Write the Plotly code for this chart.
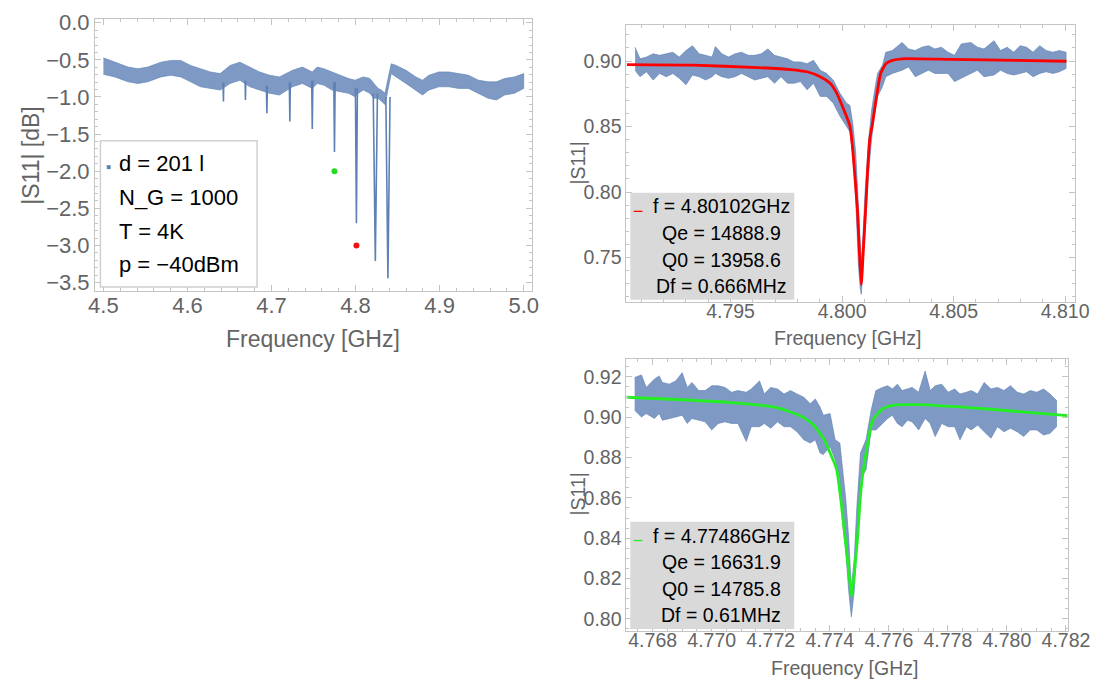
import plotly.graph_objects as go

W, H = 1117, 686
BLUE = '#5E81B5'
BAND = 'rgba(94,129,181,0.80)'
FONT = 'Liberation Sans, Arial, sans-serif'
TICKCOL = '#646464'
FRAME = '#c4c4c4'

# ---------------- left panel: wide sweep |S11| [dB] ----------------
wide_freq = [4.5000, 4.5137, 4.5293, 4.5411, 4.5528, 4.5685, 4.5803, 4.5920, 4.6038, 4.6155,
             4.6272, 4.6390, 4.6507, 4.6624, 4.6742, 4.6859, 4.6977, 4.7094, 4.7250, 4.7367,
             4.7485, 4.7543, 4.7622, 4.7719, 4.7817, 4.7915, 4.7993, 4.8033, 4.8092, 4.8169,
             4.8216, 4.8268, 4.8306, 4.8350, 4.8424, 4.8483, 4.8600, 4.8717, 4.8796, 4.8873,
             4.8991, 4.9108, 4.9225, 4.9343, 4.9460, 4.9577, 4.9676, 4.9773, 4.9890, 5.0000]
wide_upper = [-0.473, -0.531, -0.597, -0.619, -0.597, -0.531, -0.508, -0.508, -0.575, -0.619,
              -0.663, -0.685, -0.575, -0.531, -0.597, -0.663, -0.707, -0.729, -0.641, -0.597,
              -0.663, -0.597, -0.619, -0.663, -0.707, -0.751, -0.773, -0.751, -0.729, -0.751,
              -0.818, -0.884, -0.906, -0.950, -0.553, -0.575, -0.641, -0.729, -0.773, -0.707,
              -0.663, -0.663, -0.685, -0.707, -0.773, -0.796, -0.796, -0.751, -0.729, -0.685]
wide_lower = [-0.694, -0.729, -0.796, -0.818, -0.796, -0.729, -0.707, -0.729, -0.796, -0.862,
              -0.884, -0.906, -0.818, -0.774, -0.862, -0.906, -0.950, -0.973, -0.862, -0.818,
              -0.884, -0.818, -0.840, -0.906, -0.928, -0.950, -0.995, -0.950, -0.906, -0.950,
              -1.017, -1.017, -1.061, -1.100, -0.685, -0.729, -0.818, -0.906, -0.973, -0.906,
              -0.862, -0.862, -0.884, -0.884, -0.950, -1.017, -1.039, -0.973, -0.950, -0.884]

dip_freq = [4.6428, 4.6690, 4.6945, 4.7218, 4.7485, 4.7749, 4.8010, 4.8235, 4.8385]
dip_base = [-0.80, -0.78, -0.85, -0.80, -0.78, -0.80, -0.88, -0.95, -1.00]
dip_depth = [-1.06, -1.04, -1.22, -1.33, -1.43, -1.74, -2.70, -3.21, -3.44]
dip_halfwidth = [0.0004, 0.0004, 0.0006, 0.0006, 0.0007, 0.0008, 0.0012, 0.0025, 0.0025]

mark_freq = [4.77486, 4.80102]
mark_level = [-2.0, -3.0]
mark_color = ['#22dd22', '#ee1111']

legend_left = ['d = 201 l', 'N_G = 1000', 'T = 4K', 'p = \u221240dBm']

# ---------------- top-right: resonance near 4.801 GHz ----------------
r1_freq = [4.79072, 4.79094, 4.79123, 4.79153, 4.79182, 4.79212, 4.79241, 4.79270, 4.79300, 4.79329,
           4.79359, 4.79388, 4.79417, 4.79432, 4.79461, 4.79491, 4.79520, 4.79549, 4.79579, 4.79608,
           4.79638, 4.79667, 4.79697, 4.79726, 4.79755, 4.79784, 4.79813, 4.79843, 4.79872, 4.79902,
           4.79931, 4.79960, 4.79990, 4.80019, 4.80035, 4.80048, 4.80061, 4.80073, 4.80081, 4.80086,
           4.80093, 4.80103, 4.80119, 4.80132, 4.80144, 4.80159, 4.80181, 4.80196, 4.80225, 4.80269,
           4.80298, 4.80328, 4.80357, 4.80387, 4.80416, 4.80445, 4.80475, 4.80504, 4.80534, 4.80577,
           4.80607, 4.80636, 4.80681, 4.80710, 4.80740, 4.80769, 4.80798, 4.80827, 4.80856, 4.80886,
           4.80915, 4.80945, 4.80974, 4.81004]
r1_upper = [0.9105, 0.9017, 0.9030, 0.9055, 0.9043, 0.9055, 0.9067, 0.9030, 0.9080, 0.9117,
            0.9055, 0.9043, 0.9030, 0.9110, 0.9055, 0.9030, 0.9055, 0.9067, 0.9043, 0.9043,
            0.9055, 0.9092, 0.9043, 0.9030, 0.9017, 0.8993, 0.8993, 0.8980, 0.9005, 0.8930,
            0.8905, 0.8855, 0.8755, 0.8680, 0.8660, 0.8520, 0.8300, 0.7900, 0.7600, 0.7450,
            0.7650, 0.8000, 0.8400, 0.8620, 0.8755, 0.8905, 0.8968, 0.9067, 0.9080, 0.9142,
            0.9092, 0.9080, 0.9105, 0.9117, 0.9092, 0.9105, 0.9067, 0.9043, 0.9130, 0.9142,
            0.9105, 0.9092, 0.9155, 0.9080, 0.9105, 0.9067, 0.9117, 0.9105, 0.9067, 0.9117,
            0.9080, 0.9067, 0.9080, 0.9067]
r1_lower = [0.8930, 0.8880, 0.8918, 0.8855, 0.8905, 0.8880, 0.8905, 0.8868, 0.8818, 0.8893,
            0.8880, 0.8855, 0.8880, 0.8905, 0.8880, 0.8868, 0.8880, 0.8905, 0.8880, 0.8855,
            0.8868, 0.8880, 0.8830, 0.8880, 0.8830, 0.8830, 0.8843, 0.8780, 0.8830, 0.8730,
            0.8730, 0.8680, 0.8580, 0.8505, 0.8460, 0.8280, 0.7950, 0.7450, 0.7270, 0.7220,
            0.7350, 0.7650, 0.8150, 0.8400, 0.8580, 0.8730, 0.8805, 0.8880, 0.8905, 0.8930,
            0.8955, 0.8880, 0.8905, 0.8930, 0.8905, 0.8905, 0.8905, 0.8843, 0.8868, 0.8905,
            0.8930, 0.8880, 0.8893, 0.8930, 0.8905, 0.8893, 0.8905, 0.8918, 0.8880, 0.8905,
            0.8918, 0.8905, 0.8918, 0.8943]
fit1_freq = [4.79035, 4.79329, 4.79623, 4.79770, 4.79843, 4.79902, 4.79946, 4.79976, 4.79998,
             4.80019, 4.80035, 4.80046, 4.80058, 4.80069, 4.80078, 4.80086, 4.80095, 4.80105,
             4.80114, 4.80124, 4.80136, 4.80148, 4.80159, 4.80173, 4.80196, 4.80225, 4.80269,
             4.80489, 4.80784, 4.81006]
fit1_val = [0.8972, 0.8968, 0.8950, 0.8935, 0.8918, 0.8880, 0.8830, 0.8755, 0.8668,
            0.8580, 0.8505, 0.8355, 0.8105, 0.7855, 0.7530, 0.7293, 0.7555, 0.7855,
            0.8155, 0.8405, 0.8520, 0.8655, 0.8780, 0.8905, 0.8980, 0.9005, 0.9017,
            0.9012, 0.9005, 0.8998]
legend_r1 = ['f = 4.80102GHz', 'Qe = 14888.9', 'Q0 = 13958.6', 'Df = 0.666MHz']

# ---------------- bottom-right: resonance near 4.7749 GHz ----------------
r2_freq = [4.76739, 4.76762, 4.76778, 4.76806, 4.76822, 4.76833, 4.76856, 4.76878, 4.76900, 4.76917,
           4.76933, 4.76956, 4.76978, 4.77000, 4.77022, 4.77045, 4.77067, 4.77089, 4.77117, 4.77134,
           4.77162, 4.77178, 4.77200, 4.77223, 4.77245, 4.77267, 4.77289, 4.77312, 4.77334, 4.77351,
           4.77367, 4.77378, 4.77401, 4.77418, 4.77434, 4.77444, 4.77454, 4.77464, 4.77473, 4.77483,
           4.77492, 4.77504, 4.77523, 4.77540, 4.77556, 4.77579, 4.77596, 4.77612, 4.77629, 4.77645,
           4.77663, 4.77679, 4.77701, 4.77723, 4.77740, 4.77757, 4.77779, 4.77801, 4.77823, 4.77841,
           4.77863, 4.77879, 4.77901, 4.77923, 4.77946, 4.77968, 4.77990, 4.78012, 4.78035, 4.78057,
           4.78079, 4.78101, 4.78124, 4.78146, 4.78168]
r2_upper = [0.9197, 0.9210, 0.9148, 0.9189, 0.9205, 0.9172, 0.9164, 0.9180, 0.9221, 0.9148,
            0.9172, 0.9132, 0.9132, 0.9156, 0.9156, 0.9148, 0.9124, 0.9132, 0.9124, 0.9140,
            0.9180, 0.9115, 0.9148, 0.9140, 0.9115, 0.9132, 0.9115, 0.9099, 0.9067, 0.9091,
            0.9050, 0.9010, 0.9018, 0.8888, 0.8872, 0.8725, 0.8595, 0.8400, 0.8150, 0.8302,
            0.8563, 0.8823, 0.8890, 0.9034, 0.9132, 0.9148, 0.9156, 0.9140, 0.9164, 0.9132,
            0.9140, 0.9148, 0.9124, 0.9229, 0.9132, 0.9156, 0.9164, 0.9124, 0.9140, 0.9115,
            0.9124, 0.9132, 0.9115, 0.9172, 0.9140, 0.9148, 0.9132, 0.9156, 0.9124, 0.9115,
            0.9132, 0.9124, 0.9140, 0.9115, 0.9083]
r2_lower = [0.9034, 0.9001, 0.9018, 0.8994, 0.9018, 0.8985, 0.8994, 0.9001, 0.9010, 0.8969,
            0.8994, 0.8985, 0.8977, 0.8937, 0.8969, 0.8977, 0.8969, 0.8969, 0.8880, 0.8953,
            0.8953, 0.8969, 0.8945, 0.8977, 0.8953, 0.8953, 0.8928, 0.8888, 0.8872, 0.8888,
            0.8823, 0.8815, 0.8855, 0.8790, 0.8693, 0.8465, 0.8335, 0.8140, 0.8010, 0.8140,
            0.8367, 0.8693, 0.8740, 0.8937, 0.8937, 0.8969, 0.8994, 0.9010, 0.8969, 0.8953,
            0.8985, 0.8977, 0.8937, 0.8994, 0.8969, 0.8904, 0.8969, 0.8953, 0.8953, 0.8888,
            0.8953, 0.8937, 0.8961, 0.8928, 0.8896, 0.8953, 0.8928, 0.8945, 0.8928, 0.8904,
            0.8937, 0.8937, 0.8912, 0.8920, 0.8953]
fit2_freq = [4.76711, 4.77045, 4.77212, 4.77267, 4.77312, 4.77345, 4.77378, 4.77401, 4.77423,
             4.77437, 4.77452, 4.77464, 4.77474, 4.77484, 4.77494, 4.77503, 4.77512, 4.77529,
             4.77545, 4.77579, 4.77612, 4.77701, 4.77923, 4.78206]
fit2_val = [0.9099, 0.9075, 0.9050, 0.9026, 0.8998, 0.8961, 0.8896, 0.8823, 0.8742,
            0.8595, 0.8400, 0.8237, 0.8111, 0.8237, 0.8400, 0.8595, 0.8720, 0.8872,
            0.8985, 0.9042, 0.9059, 0.9062, 0.9042, 0.9008]
legend_r2 = ['f = 4.77486GHz', 'Qe = 16631.9', 'Q0 = 14785.8', 'Df = 0.61MHz']

# tick values
wide_xticks = [4.5, 4.6, 4.7, 4.8, 4.9, 5.0]
wide_yticks = [0.0, -0.5, -1.0, -1.5, -2.0, -2.5, -3.0, -3.5]
r1_xticks = [4.795, 4.800, 4.805, 4.810]
r1_yticks = [0.75, 0.80, 0.85, 0.90]
r2_xticks = [4.768, 4.770, 4.772, 4.774, 4.776, 4.778, 4.780, 4.782]
r2_yticks = [0.80, 0.82, 0.84, 0.86, 0.88, 0.90, 0.92]


def px(x):
    return x / W


def py(y):
    return 1 - y / H


fig = go.Figure()


def band(xs, up, lo, xa, ya):
    fig.add_trace(go.Scatter(x=xs + xs[::-1], y=up + lo[::-1], fill='toself',
                             fillcolor=BAND, line=dict(width=0.8, color=BAND),
                             mode='lines', xaxis=xa, yaxis=ya, hoverinfo='skip',
                             showlegend=False))


# left
band(wide_freq, wide_upper, wide_lower, 'x', 'y')
dx, dy = [], []
for f, b, d, hw in zip(dip_freq, dip_base, dip_depth, dip_halfwidth):
    dx += [f - hw, f, f + hw, None]
    dy += [b, d, b, None]
fig.add_trace(go.Scatter(x=dx, y=dy, mode='lines', line=dict(color=BLUE, width=1.6),
                         xaxis='x', yaxis='y', showlegend=False))
fig.add_trace(go.Scatter(x=mark_freq, y=mark_level, mode='markers',
                         marker=dict(color=mark_color, size=6), xaxis='x', yaxis='y',
                         showlegend=False))

# top right
band(r1_freq, r1_upper, r1_lower, 'x2', 'y2')
fig.add_trace(go.Scatter(x=fit1_freq, y=fit1_val, mode='lines',
                         line=dict(color='#ff0000', width=2.8, shape='spline', smoothing=0.5),
                         xaxis='x2', yaxis='y2', showlegend=False))
# bottom right
band(r2_freq, r2_upper, r2_lower, 'x3', 'y3')
fig.add_trace(go.Scatter(x=fit2_freq, y=fit2_val, mode='lines',
                         line=dict(color='#22ee22', width=2.8, shape='spline', smoothing=0.5),
                         xaxis='x3', yaxis='y3', showlegend=False))


def axis(domain, rng, tickvals, fmt, dtick_minor, size, anchor, standoff):
    return dict(domain=domain, range=rng, tickvals=tickvals, tickformat=fmt,
                showline=True, linecolor=FRAME, linewidth=1, mirror='ticks',
                ticks='inside', ticklen=6, tickcolor=FRAME, tickwidth=1,
                minor=dict(ticks='inside', ticklen=3, tickcolor=FRAME, dtick=dtick_minor),
                showgrid=False, zeroline=False, anchor=anchor, ticklabelstandoff=standoff,
                tickfont=dict(family=FONT, size=size, color=TICKCOL))


fig.update_layout(
    width=W, height=H, margin=dict(l=0, r=0, t=0, b=0),
    paper_bgcolor='white', plot_bgcolor='white', showlegend=False,
    xaxis=axis([px(90.4), px(539.6)], [4.49, 5.01], wide_xticks, '.1f', 0.02, 22, 'y', -5),
    yaxis=axis([py(288), py(11)], [-3.612, 0.053], wide_yticks, '.1f', 0.1, 22, 'x', 0),
    xaxis2=axis([px(636.5), px(1097)], [4.79033, 4.81042], r1_xticks, '.3f', 0.001, 19.5, 'y2', -8),
    yaxis2=axis([py(299), py(17)], [0.7163, 0.9277], r1_yticks, '.2f', 0.01, 19.5, 'x2', 0),
    xaxis3=axis([px(636.5), px(1090)], [4.76711, 4.78206], r2_xticks, '.3f', 0.0005, 19.5, 'y3', -8),
    yaxis3=axis([py(634), py(357)], [0.794, 0.929], r2_yticks, '.2f', 0.005, 19.5, 'x3', 0),
)

ann = []
shapes = []


def text(x, y, s, size, color='black', anchor='left', angle=0):
    ann.append(dict(x=px(x), y=py(y), xref='paper', yref='paper', text=s, showarrow=False,
                    xanchor=anchor, yanchor='middle', textangle=angle,
                    font=dict(family=FONT, size=size, color=color)))


# axis titles
text(25, 150, '|S11| [dB]', 23, TICKCOL, 'center', -90)
text(314, 337, 'Frequency [GHz]', 23, TICKCOL, 'center')
text(587, 158, '|S11|', 19.5, TICKCOL, 'center', -90)
text(864, 336, 'Frequency [GHz]', 19.5, TICKCOL, 'center')
text(587, 495, '|S11|', 19.5, TICKCOL, 'center', -90)
text(861, 672, 'Frequency [GHz]', 19.5, TICKCOL, 'center')

# left legend
shapes.append(dict(type='rect', xref='paper', yref='paper', x0=px(96), x1=px(257), y0=py(284), y1=py(135),
                   fillcolor='white', line=dict(color='#d0d0d0', width=1.5), layer='above'))
shapes.append(dict(type='rect', xref='paper', yref='paper', x0=px(102.5), x1=px(106.5), y0=py(164), y1=py(160),
                   fillcolor=BLUE, line=dict(width=0), layer='above'))
for i, s in enumerate(legend_left):
    text(113, 158 + i * 34.5, s, 22)

# right legends
for (top, bottom, c, lines, col) in [(188, 297, 202, legend_r1, '#ff0000'), (523, 632, 537, legend_r2, '#22ee22')]:
    shapes.append(dict(type='rect', xref='paper', yref='paper', x0=px(640.5), x1=px(809), y0=py(bottom), y1=py(top),
                       fillcolor='#d9d9d9', line=dict(width=0), layer='above'))
    shapes.append(dict(type='line', xref='paper', yref='paper', x0=px(644), x1=px(653), y0=py(c + 5), y1=py(c + 5),
                       line=dict(color=col, width=1.3), layer='above'))
    for i, s in enumerate(lines):
        text(734, c + i * 27, s, 19.5, 'black', 'center')

fig.update_layout(annotations=ann, shapes=shapes)
fig.write_html('out.html')
